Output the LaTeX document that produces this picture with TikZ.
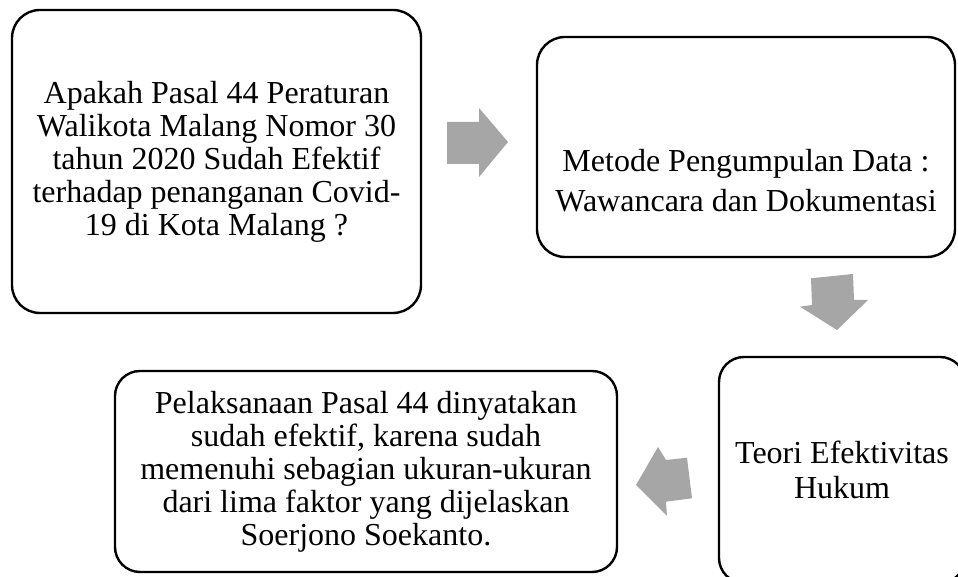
\documentclass[tikz,border=0pt]{standalone}
\usepackage{fontspec}
\setmainfont{Liberation Serif}
\definecolor{abu}{HTML}{A6A6A6}
\begin{document}
\begin{tikzpicture}[x=1pt,y=1pt,
  kotak/.style={draw=black,line width=2.4pt,rounded corners=28pt,fill=white,align=center,inner sep=0pt},
  panah/.style={fill=abu}]
\def\fs{\fontsize{32}{33}\selectfont}
\useasboundingbox (0,0) rectangle (958,577);
\clip (0,0) rectangle (958,577);
\node[kotak,minimum width=409pt,minimum height=303pt,font=\fs] (A) at (216.5,415.5) {Apakah Pasal 44 Peraturan\\Walikota Malang Nomor 30\\tahun 2020 Sudah Efektif\\terhadap penanganan Covid-\\19 di Kota Malang ?};
\node[kotak,minimum width=418pt,minimum height=220pt] (B) at (746,430) {};
\node[align=center,font=\fontsize{32}{40}\selectfont] (TB) at ([yshift=-34pt]B.center) {Metode Pengumpulan Data :\\Wawancara dan Dokumentasi};
\node[kotak,minimum width=246pt,minimum height=226pt,rounded corners=25pt,font=\fontsize{32}{35}\selectfont] (C) at (842,107) {Teori Efektivitas\\Hukum};
\node[kotak,minimum width=502pt,minimum height=201pt,rounded corners=25pt,font=\fs] (D) at (366,105.5) {Pelaksanaan Pasal 44 dinyatakan\\sudah efektif, karena sudah\\memenuhi sebagian ukuran-ukuran\\dari lima faktor yang dijelaskan\\Soerjono Soekanto.};

% panah
\fill[panah] (447,455) -- (479,455) -- (479,469) -- (508,435) -- (479,400) -- (479,413) -- (447,413) -- cycle;
\fill[panah] (811,298.7) -- (853,303) -- (854,277) -- (868,277) -- (837,247) -- (800,270.3) -- (812,272) -- cycle;
\fill[panah] (636,92) -- (658,130) -- (666,117) -- (687,119.3) -- (692,78.7) -- (666,75.3) -- (667,61) -- cycle;
\end{tikzpicture}
\end{document}
